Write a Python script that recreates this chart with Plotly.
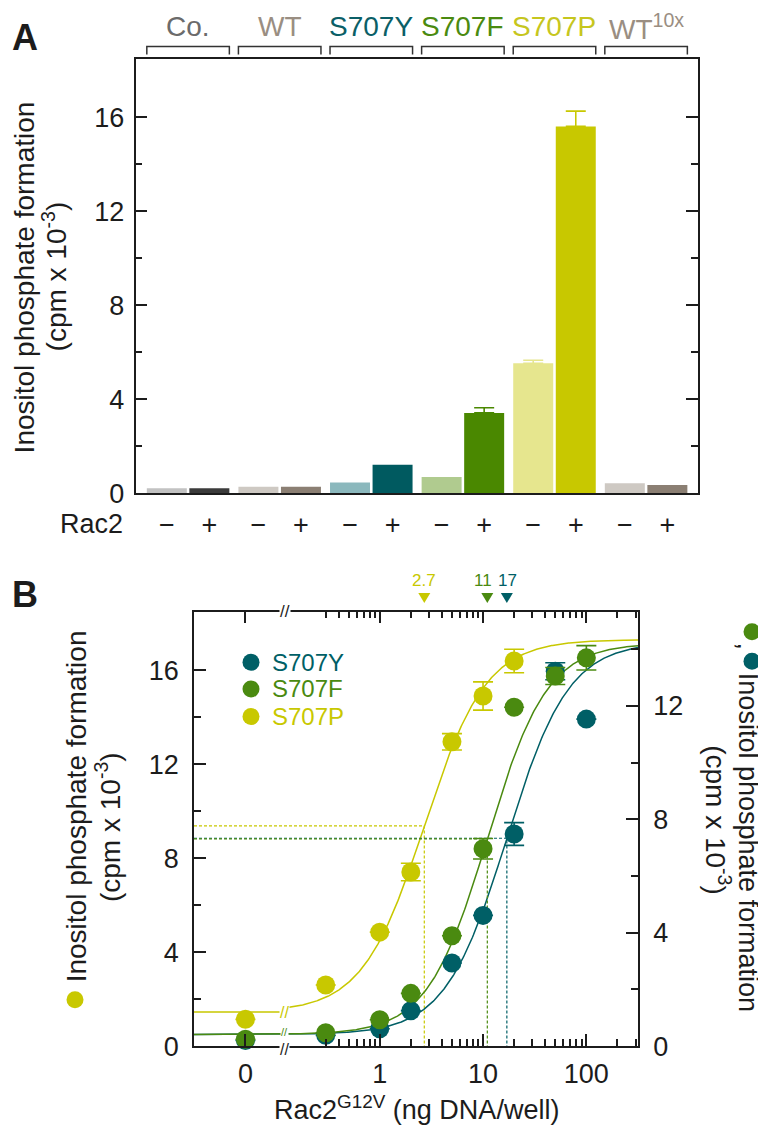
import numpy as np
import plotly.graph_objects as go

# ---------------- Panel A data ----------------
groups = ["Co.", "WT", "S707Y", "S707F", "S707P", "WT<sup>10x</sup>"]
group_text_colors = ["#6b6b6b", "#9a8e82", "#0b5f67", "#4a8a10", "#c6c61e", "#9a8e82"]
rac2_ticktext = ["\u2212", "+"]
ipf_minus = [0.21, 0.28, 0.46, 0.69, 5.53, 0.42]
ipf_plus = [0.21, 0.28, 1.21, 3.42, 15.62, 0.35]
err_minus = [0, 0, 0, 0, 0.13, 0]
err_plus = [0, 0, 0, 0.22, 0.65, 0]
bar_colors_minus = ["#c2c2c2", "#cec9c3", "#8bb8bd", "#b0cb8f", "#e6e68e", "#cec9c3"]
bar_colors_plus = ["#3b3b3b", "#8b7f73", "#005a60", "#4a8800", "#c8c800", "#8b7f73"]
a_yticks = [0, 4, 8, 12, 16]
a_yminor = [2, 6, 10, 14]

# ---------------- Panel B data ----------------
dose_p = [0, 0.3, 1, 2, 5, 10, 20]
ipf_p = [1.14, 2.6, 4.85, 7.41, 12.95, 14.9, 16.39]
err_p = [0, 0, 0, 0.37, 0.35, 0.6, 0.5]
dose_fy = [0, 0.3, 1, 2, 5, 10, 20, 50, 100]
ipf_f = [0.24, 0.47, 0.93, 1.86, 3.89, 6.96, 11.95, 13.05, 13.69]
err_f = [0, 0, 0, 0, 0, 0.36, 0, 0.3, 0.43]
ipf_y = [0.2, 0.38, 0.61, 1.25, 2.93, 4.61, 7.48, 13.22, 11.53]
err_y = [0, 0, 0, 0, 0, 0, 0.4, 0.3, 0]
legend_order = ["S707Y", "S707F", "S707P"]

# fitted dose-response (Hill) parameters
ec50 = {"S707Y": 17, "S707F": 11, "S707P": 2.7}
ec50_labels = {"S707Y": "17", "S707F": "11", "S707P": "2.7"}
fit_bottom = {"S707Y": 0.41, "S707F": 0.41, "S707P": 1.45}
fit_span = {"S707Y": 13.84, "S707F": 13.8, "S707P": 15.85}
fit_hill = {"S707Y": 1.45, "S707F": 1.5, "S707P": 1.45}

b_x_tickdose = [0, 1, 10, 100]
b_x_ticktext = ["0", "1", "10", "100"]
b_minor_dose = [0.3, 0.4, 0.5, 0.6, 0.7, 0.8, 0.9, 2, 3, 4, 5, 6, 7, 8, 9,
                20, 30, 40, 50, 60, 70, 80, 90, 200, 300]
b_yticks_left = [0, 4, 8, 12, 16]
b_yticks_right = [0, 4, 8, 12]
b_yminor = [2, 6, 10, 14]

# ---------------- styling / geometry ----------------
W, H = 766, 1137
FONT = "Liberation Sans, Arial, Helvetica, sans-serif"
INK = "#1c1c1c"
TEAL, GREEN, YELLOW = "#005f66", "#4a8a10", "#c8c800"
series_color = {"S707Y": TEAL, "S707F": GREEN, "S707P": YELLOW}


def px_x(p):
    return p / W


def px_y(p):
    return 1 - p / H


A_LEFT, A_RIGHT, A_TOP, A_BOTTOM = 127.5, 690, 51.7, 491.7
B_LEFT, B_RIGHT, B_TOP, B_BOTTOM = 186, 630, 611.7, 1052

GROUP_STEP = 2.153
BAR_W = 0.94
A_XRANGE = [-0.736, 5 * GROUP_STEP + 1.72]
A_YRANGE = [0, 18.49]

# broken log axis for panel B: u = log10(dose); dose 0 drawn left of the break
U_RANGE = [-1.798, 2.50]
U_ZERO = -1.30
U_BREAK = -0.92
B_YRANGE_L = [0, 18.49]
B_YRANGE_R = [0, 15.32]

DOT_D = 17  # diameter of the key dots (px)


def xpos(d):
    return U_ZERO if d == 0 else float(np.log10(d))


def hill(name, d):
    d = np.asarray(d, dtype=float)
    return fit_bottom[name] + fit_span[name] / (1 + (ec50[name] / d) ** fit_hill[name])


fig = go.Figure()

# ---------------- Panel A bars ----------------
pos_minus = [g * GROUP_STEP for g in range(len(groups))]
pos_plus = [p + 1 for p in pos_minus]
for g in range(len(groups)):
    for pos, val, err, col in ((pos_minus[g], ipf_minus[g], err_minus[g], bar_colors_minus[g]),
                               (pos_plus[g], ipf_plus[g], err_plus[g], bar_colors_plus[g])):
        fig.add_trace(go.Bar(
            x=[pos], y=[val], width=BAR_W, marker=dict(color=col, line=dict(width=0)),
            error_y=dict(type="data", symmetric=False, array=[err], arrayminus=[0],
                         visible=err > 0, color=col, thickness=1.6, width=10),
            xaxis="x", yaxis="y", showlegend=False, hoverinfo="skip"))

# ---------------- Panel B curves ----------------
u = np.linspace(U_RANGE[0], U_RANGE[1], 500)
for name, yax in (("S707Y", "y3"), ("S707F", "y3"), ("S707P", "y2")):
    yc = np.where(u < U_BREAK, fit_bottom[name], hill(name, 10 ** u))
    fig.add_trace(go.Scatter(x=u, y=yc, mode="lines", line=dict(color=series_color[name], width=1.5),
                             xaxis="x2", yaxis=yax, showlegend=False, hoverinfo="skip"))

# half-maximal dashed guides
for name, yax in (("S707Y", "y3"), ("S707F", "y3"), ("S707P", "y2")):
    half = fit_bottom[name] + fit_span[name] / 2
    xe = float(np.log10(ec50[name]))
    fig.add_trace(go.Scatter(x=[U_RANGE[0], xe, xe], y=[half, half, 0], mode="lines",
                             line=dict(color=series_color[name], width=1.2, dash="3px,2px"),
                             xaxis="x2", yaxis=yax, showlegend=False, hoverinfo="skip"))

# ---------------- Panel B points ----------------
for name, doses, vals, errs, yax in (("S707Y", dose_fy, ipf_y, err_y, "y3"),
                                     ("S707F", dose_fy, ipf_f, err_f, "y3"),
                                     ("S707P", dose_p, ipf_p, err_p, "y2")):
    col = series_color[name]
    fig.add_trace(go.Scatter(
        x=[xpos(d) for d in doses], y=vals, mode="markers",
        marker=dict(color=col, size=19, line=dict(width=0)),
        error_y=dict(type="data", array=errs, color=col, thickness=1.6, width=10),
        name=name, xaxis="x2", yaxis=yax, showlegend=False, hoverinfo="skip", cliponaxis=False))

# ---------------- axes ----------------
axis_common = dict(showgrid=False, zeroline=False, showline=True, linecolor=INK, linewidth=1.5,
                   tickcolor=INK, tickwidth=1.5, tickfont=dict(family=FONT, size=27, color=INK))

fig.update_layout(
    xaxis=dict(**axis_common, domain=[px_x(A_LEFT), px_x(A_RIGHT)], range=A_XRANGE, anchor="y",
               mirror=True, ticks="", tickmode="array",
               tickvals=[p for pair in zip(pos_minus, pos_plus) for p in pair],
               ticktext=rac2_ticktext * len(groups), ticklabelstandoff=7),
    xaxis3=dict(showgrid=False, zeroline=False, showline=False, overlaying="x", side="top",
                anchor="y", range=A_XRANGE, ticks="inside", ticklen=12, tickwidth=1.5, tickcolor=INK,
                tickmode="array", tickvals=[p for pair in zip(pos_minus, pos_plus) for p in pair],
                showticklabels=False),
    yaxis=dict(**axis_common, domain=[px_y(A_BOTTOM), px_y(A_TOP)], range=A_YRANGE, anchor="x",
               mirror="ticks", ticks="inside", ticklen=12, tickmode="array", tickvals=a_yticks,
               minor=dict(ticks="inside", ticklen=7, tickwidth=1.5, tickcolor=INK,
                          tickmode="array", tickvals=a_yminor),
               ticklabelstandoff=4),
    xaxis2=dict(**axis_common, domain=[px_x(B_LEFT), px_x(B_RIGHT)], range=U_RANGE, anchor="y2",
                mirror="ticks", ticks="inside", ticklen=12, tickmode="array",
                tickvals=[xpos(d) for d in b_x_tickdose], ticktext=b_x_ticktext,
                minor=dict(ticks="inside", ticklen=7, tickwidth=1.5, tickcolor=INK,
                           tickmode="array", tickvals=[xpos(d) for d in b_minor_dose]),
                ticklabelstandoff=3),
    yaxis2=dict(**axis_common, domain=[px_y(B_BOTTOM), px_y(B_TOP)], range=B_YRANGE_L, anchor="x2",
                ticks="inside", ticklen=12, tickmode="array", tickvals=b_yticks_left,
                minor=dict(ticks="inside", ticklen=7, tickwidth=1.5, tickcolor=INK,
                           tickmode="array", tickvals=b_yminor),
                ticklabelstandoff=8),
    yaxis3=dict(**axis_common, range=B_YRANGE_R, anchor="x2", overlaying="y2", side="right",
                ticks="inside", ticklen=12, tickmode="array", tickvals=b_yticks_right,
                minor=dict(ticks="inside", ticklen=7, tickwidth=1.5, tickcolor=INK,
                           tickmode="array", tickvals=b_yminor),
                ticklabelstandoff=8),
)

# ---------------- annotations & shapes ----------------
ann = []
shapes = []


def text(x, y, s, size=27, color=INK, xref="paper", yref="paper", angle=0, xanchor="center",
         yanchor="middle", **kw):
    ann.append(dict(x=x, y=y, xref=xref, yref=yref, text=s, showarrow=False, textangle=angle,
                    xanchor=xanchor, yanchor=yanchor,
                    font=dict(family=FONT, size=size, color=color), **kw))


def key_dot(cx, cy, color):
    r = DOT_D / 2
    shapes.append(dict(type="circle", xref="paper", yref="paper",
                       xsizemode="pixel", ysizemode="pixel",
                       xanchor=px_x(cx), yanchor=px_y(cy),
                       x0=-r, x1=r, y0=-r, y1=r, fillcolor=color, line=dict(width=0)))


# panel letters
text(px_x(17), px_y(30), "<b>A</b>", size=36)
text(px_x(17), px_y(594), "<b>B</b>", size=36)

# panel A group headers + brackets
for g, name in enumerate(groups):
    text(pos_minus[g] + 0.5, px_y(19), name, size=28, color=group_text_colors[g], xref="x")
    x0 = pos_minus[g] - BAR_W / 2
    x1 = pos_plus[g] + BAR_W / 2
    yt, yb = px_y(39), px_y(47)
    shapes.append(dict(type="path", xref="x", yref="paper",
                       path=f"M {x0},{yb} L {x0},{yt} L {x1},{yt} L {x1},{yb}",
                       line=dict(color="#333333", width=1.5)))

text(px_x(117), px_y(523), "Rac2", size=27, xanchor="right")

# panel A y title
text(px_x(16), px_y(273), "Inositol phosphate formation", size=28, angle=-90)
text(px_x(47), px_y(272), "(cpm x 10<sup>-3</sup>)", size=28, angle=-90)

# panel B left y title (yellow key dot below the text)
text(px_x(68), px_y(809), "Inositol phosphate formation", size=28, angle=-90)
key_dot(67, 1005, YELLOW)
text(px_x(100), px_y(830), "(cpm x 10<sup>-3</sup>)", size=28, angle=-90)

# panel B right y title (green, teal key dots above the text)
key_dot(744, 632, GREEN)
text(px_x(739), px_y(646), ",", size=26, angle=90)
key_dot(744, 662, TEAL)
text(px_x(740), px_y(845), "Inositol phosphate formation", size=27, angle=90)
text(px_x(710), px_y(823), "(cpm x 10<sup>-3</sup>)", size=28, angle=90)

# panel B x title
text(px_x((B_LEFT + B_RIGHT) / 2), px_y(1115), "Rac2<sup>G12V</sup> (ng DNA/well)", size=27)

# panel B legend
legend_rows = [663, 690, 718]
for name, row in zip(legend_order, legend_rows):
    key_dot(243, row, series_color[name])
    text(px_x(262), px_y(row), name, size=24, color=series_color[name], xanchor="left")

# EC50 markers: value label + downward triangle above the plot
ec50_shift = {"S707P": 0, "S707F": -4, "S707Y": 1}
for name in ("S707P", "S707F", "S707Y"):
    xe = float(np.log10(ec50[name]))
    text(xe, px_y(580), ec50_labels[name], size=17, color=series_color[name], xref="x2",
         xshift=ec50_shift[name])
    shapes.append(dict(type="path", xref="x2", yref="paper", xsizemode="pixel", ysizemode="pixel",
                       xanchor=xe, yanchor=px_y(598), path="M -6,5 L 6,5 L 0,-5 Z",
                       fillcolor=series_color[name], line=dict(width=0)))

# axis breaks
brk = dict(bgcolor="white", borderpad=0)
text(U_BREAK, 0, "//", size=16, xref="x2", yref="y2", yshift=-3, **brk)
text(U_BREAK, px_y(B_TOP), "//", size=17, xref="x2", **brk)
text(U_BREAK, fit_bottom["S707P"], "//", size=16, color=YELLOW, xref="x2", yref="y2", **brk)
text(U_BREAK, fit_bottom["S707F"], "//", size=11, color=GREEN, xref="x2", yref="y3", yshift=2, **brk)

fig.update_layout(
    width=W, height=H, margin=dict(l=0, r=0, t=0, b=0),
    paper_bgcolor="white", plot_bgcolor="white",
    barmode="overlay", annotations=ann, shapes=shapes, showlegend=False,
    font=dict(family=FONT, color=INK),
)

fig.write_html("out.html")
